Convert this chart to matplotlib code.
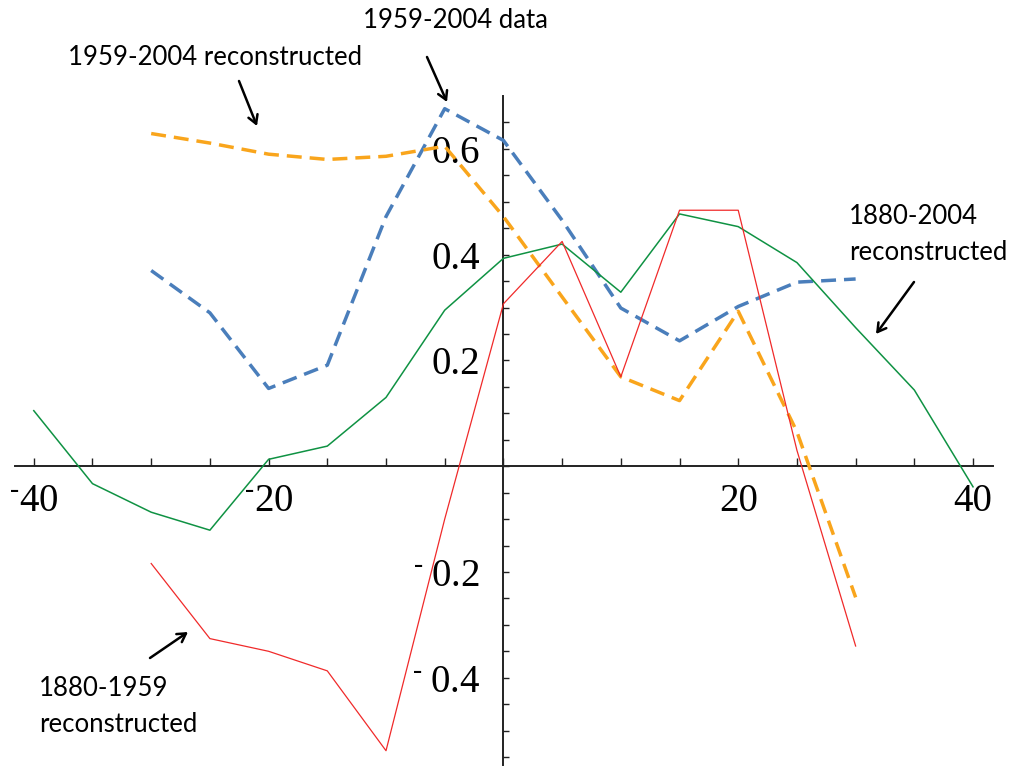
import numpy as np
import matplotlib.pyplot as plt
from matplotlib.ticker import MultipleLocator, FixedLocator, FuncFormatter

plt.rcParams['mathtext.fontset'] = 'custom'
plt.rcParams['mathtext.rm'] = 'Liberation Serif'
plt.rcParams['mathtext.it'] = 'Liberation Serif:italic'
plt.rcParams['mathtext.bf'] = 'Liberation Serif:bold'

# x positions shared by all series
x_full = [-40, -35, -30, -25, -20, -15, -10, -5, 0, 5, 10, 15, 20, 25, 30, 35, 40]
x_mid = [-30, -25, -20, -15, -10, -5, 0, 5, 10, 15, 20, 25, 30]

# 1880-2004 reconstructed (green)
green_vals = [0.105, -0.033, -0.087, -0.121, 0.013, 0.038, 0.130, 0.295, 0.393,
              0.420, 0.329, 0.477, 0.453, 0.385, 0.262, 0.144, -0.039]
# 1880-1959 reconstructed (red)
red_vals = [-0.184, -0.326, -0.350, -0.387, -0.538, -0.100, 0.307, 0.425,
            0.169, 0.484, 0.484, 0.030, -0.340]
# 1959-2004 data (blue dashed)
blue_vals = [0.370, 0.290, 0.147, 0.191, 0.472, 0.676, 0.616, 0.465,
             0.299, 0.237, 0.302, 0.348, 0.354]
# 1959-2004 reconstructed (orange dashed)
orange_vals = [0.629, 0.611, 0.590, 0.580, 0.586, 0.605, 0.472, 0.320,
               0.169, 0.124, 0.293, 0.065, -0.248]

x_labels = {-40: r'$^{\text{-}}\mathrm{40}$', -20: r'$^{\text{-}}\mathrm{20}$', 20: '20', 40: '40'}
y_labels = {-0.4: r'$^{\text{-}}\;\mathrm{0.4}$', -0.2: r'$^{\text{-}}\;\mathrm{0.2}$',
            0.2: '0.2', 0.4: '0.4', 0.6: '0.6'}

W, H = 1017, 767
fig = plt.figure(figsize=(W / 100, H / 100), dpi=100)
ax = fig.add_axes([15 / W, 1 - 765 / H, (993 - 15) / W, (765 - 96) / H])

dash = (4.3, 2.3)
ax.plot(x_mid, blue_vals, color='#4a7ebb', lw=2.5, dashes=dash, zorder=3)
ax.plot(x_mid, orange_vals, color='#f9a51c', lw=2.5, dashes=dash, zorder=3)
ax.plot(x_full, green_vals, color='#0f9243', lw=1.1, zorder=4)
ax.plot(x_mid, red_vals, color='#f02a2a', lw=0.9, zorder=4)

ax.set_xlim(-41.6, 41.7)
ax.set_ylim(-0.565, 0.70)

for s in ['top', 'right']:
    ax.spines[s].set_visible(False)
ax.spines['left'].set_position(('data', 0))
ax.spines['bottom'].set_position(('data', 0))
for s in ['left', 'bottom']:
    ax.spines[s].set_linewidth(1.4)
    ax.spines[s].set_color('#222222')
    ax.spines[s].set_zorder(2)

ax.xaxis.set_major_locator(MultipleLocator(5))
ax.yaxis.set_major_locator(FixedLocator(np.round(np.arange(-0.55, 0.66, 0.05), 2)))
ax.xaxis.set_major_formatter(FuncFormatter(lambda v, p: x_labels.get(int(round(v)), '')))
ax.yaxis.set_major_formatter(FuncFormatter(lambda v, p: y_labels.get(round(v, 2), '')))
ax.tick_params(axis='x', direction='in', length=5.5, width=1, colors='#222222', pad=12)
ax.tick_params(axis='y', direction='in', length=4.5, width=1, colors='#222222', pad=17)
for lab in ax.get_xticklabels() + ax.get_yticklabels():
    lab.set_family(['Liberation Serif', 'DejaVu Serif'])
    lab.set_fontsize(28)
    lab.set_color('black')

# annotations
tfont = dict(family=['Lato', 'DejaVu Sans'], fontsize=18.5, color='black', va='baseline')
fig.text(363 / W, 1 - 28 / H, '1959-2004 data', **tfont)
fig.text(68 / W, 1 - 65 / H, '1959-2004 reconstructed', **tfont)
fig.text(849 / W, 1 - 260 / H, '1880-2004\nreconstructed', linespacing=1.55, **tfont)
fig.text(39 / W, 1 - 732 / H, '1880-1959\nreconstructed', linespacing=1.55, **tfont)

def arrow(x0, y0, x1, y1):
    fig.add_artist(plt.Annotation('', xy=(x1 / W, 1 - y1 / H), xytext=(x0 / W, 1 - y0 / H),
                                  xycoords='figure fraction', textcoords='figure fraction',
                                  arrowprops=dict(arrowstyle='->,head_length=0.6,head_width=0.35',
                                                  lw=1.8, color='black',
                                                  shrinkA=0, shrinkB=0)))

arrow(239, 81, 257, 126)
arrow(427, 57, 447, 102)
arrow(914, 282, 876, 334)
arrow(150, 658, 188, 632)

fig.savefig('out.png', dpi=100)
